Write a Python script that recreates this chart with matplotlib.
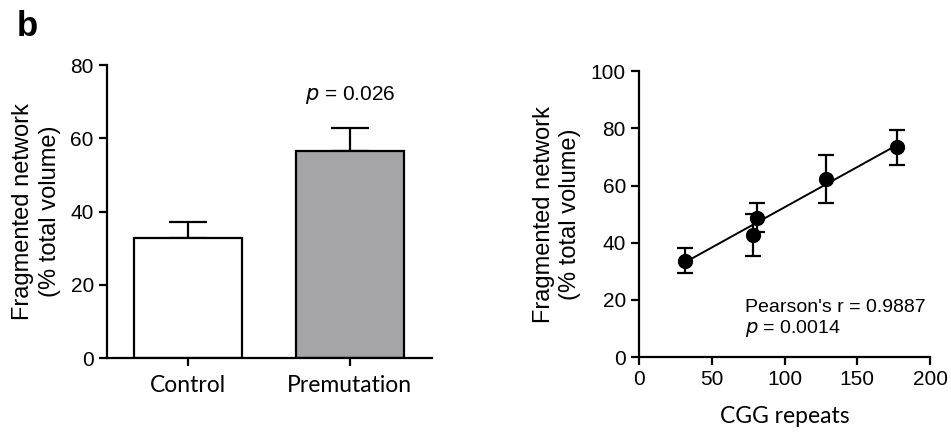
import numpy as np
import matplotlib.pyplot as plt

plt.rcParams['font.family'] = ['Liberation Sans', 'DejaVu Sans']

# bar chart data
groups = ['Control', 'Premutation']
bar_means = [32.8, 56.6]
bar_err = [4.4, 6.3]
bar_colors = ['white', '#a5a5a7']

# scatter data
cgg = [31.5, 78, 81, 128.5, 177]
frag = [33.8, 42.7, 48.8, 62.3, 73.4]
frag_err = [4.5, 7.2, 5.0, 8.3, 6.2]

label_font = 'Lato'

fig = plt.figure(figsize=(9.51, 4.34), dpi=100)

def style_axes(ax):
    for s in ['top', 'right']:
        ax.spines[s].set_visible(False)
    for s in ['left', 'bottom']:
        ax.spines[s].set_linewidth(1.6)
    ax.tick_params(width=1.6, length=6, labelsize=15, direction='out')

# left: bars
ax1 = fig.add_axes([0.1125, 0.175, 0.3415, 0.675])
x = np.arange(len(groups))
ax1.bar(x, bar_means, width=0.67, color=bar_colors, edgecolor='black', linewidth=1.6, zorder=2)
ax1.errorbar(x, bar_means, yerr=[[0, 0], bar_err], fmt='none', ecolor='black',
             elinewidth=1.6, capsize=14, capthick=1.6, zorder=1)
ax1.set_xlim(-0.5, 1.506)
ax1.set_ylim(0, 80)
ax1.set_yticks([0, 20, 40, 60, 80])
ax1.set_xticks(x)
style_axes(ax1)
ax1.set_xticklabels(groups, fontfamily=label_font, fontsize=16.5)
ax1.tick_params(axis='x', pad=6)
ax1.set_ylabel('Fragmented network\n(% total volume)', fontsize=17, linespacing=1.25, labelpad=7)
ax1.text(1.0, 71.8, r'$\it{p}$ = 0.026', ha='center', va='center', fontsize=15)

# right: scatter with regression
ax2 = fig.add_axes([0.672, 0.177, 0.306, 0.659])
ax2.errorbar(cgg, frag, yerr=frag_err, fmt='o', color='black', markersize=10,
             elinewidth=1.6, capsize=6, capthick=1.6, zorder=3)
slope, intercept = np.polyfit(cgg, frag, 1)
xs = np.array([min(cgg), max(cgg)])
ax2.plot(xs, slope * xs + intercept, color='black', linewidth=1.4, zorder=2)
ax2.set_xlim(0, 200)
ax2.set_ylim(0, 100)
ax2.set_xticks([0, 50, 100, 150, 200])
ax2.set_yticks([0, 20, 40, 60, 80, 100])
style_axes(ax2)
ax2.set_xlabel('CGG repeats', fontfamily=label_font, fontsize=16.5, labelpad=12)
ax2.set_ylabel('Fragmented network\n(% total volume)', fontsize=17, linespacing=1.25, labelpad=7)
ax2.text(73, 17.5, "Pearson's r = 0.9887", fontsize=14, va='center')
ax2.text(73, 10, r'$\it{p}$ = 0.0014', fontsize=14, va='center')

fig.text(0.018, 0.938, 'b', fontsize=25, fontweight='bold', va='center')

fig.savefig('out.png', dpi=100)
